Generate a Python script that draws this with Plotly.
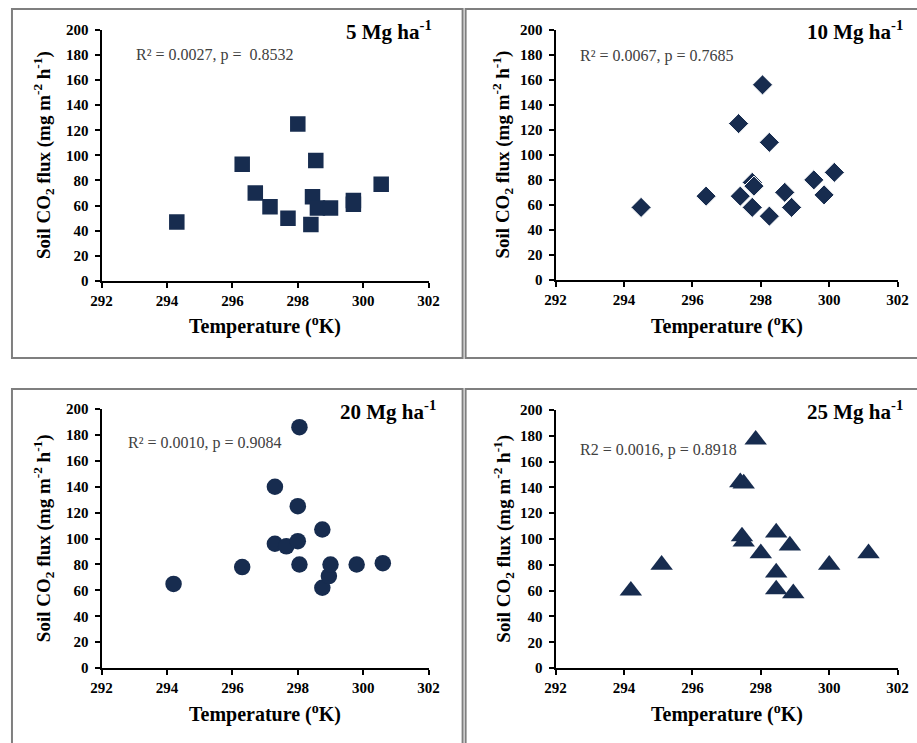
import plotly.graph_objects as go

W, H = 917, 743

# ---- data ----
t5 = [294.3, 296.3, 298.0, 298.55, 296.7, 297.15, 297.7, 298.4, 298.45, 298.6, 299.0, 299.7, 299.7, 300.55]
f5 = [47, 93, 125, 96, 70, 59, 50, 45, 67, 58, 58, 64, 61, 77]

t10 = [294.5, 296.4, 297.35, 298.05, 298.25, 297.4, 297.75, 297.8, 297.75, 298.25, 298.7, 298.9, 299.55, 299.85, 300.15]
f10 = [58, 67, 125, 156, 110, 67, 78, 75, 58, 51, 70, 58, 80, 68, 86]

t20 = [294.2, 296.3, 297.3, 298.0, 298.05, 297.3, 297.65, 298.0, 298.05, 298.75, 298.75, 298.95, 299.0, 299.8, 300.6]
f20 = [65, 78, 140, 125, 186, 96, 94, 98, 80, 107, 62, 71, 80, 80, 81]

t25 = [294.2, 295.1, 297.85, 297.4, 297.5, 297.45, 297.5, 298.0, 298.45, 298.85, 298.45, 298.45, 298.95, 300.0, 301.15]
f25 = [60, 80, 177, 144, 143, 102, 98, 89, 105, 95, 74, 61, 58, 80, 89]

titles = ["5 Mg ha<sup>-1</sup>", "10 Mg ha<sup>-1</sup>", "20 Mg ha<sup>-1</sup>", "25 Mg ha<sup>-1</sup>"]
stats = ["R² = 0.0027, p =  0.8532", "R² = 0.0067, p = 0.7685",
         "R² = 0.0010, p = 0.9084", "R2 = 0.0016, p = 0.8918"]
x_title = "Temperature (<sup>o</sup>K)"
y_title = "Soil CO<sub>2</sub> flux (mg m<sup>-2</sup> h<sup>-1</sup>)"
x_range = [292, 302]
y_range = [0, 200]

NAVY = "#172c4f"
FONT = "Liberation Serif, Times New Roman, serif"

# mapping from picture pixels to page pixels (measured from a calibration render)
def ix(v):
    return (v - 10.4) / 0.976

def iy(v):
    return (v - 7.2) / 0.978

def px(x):
    return min(max(x, -20), 950) / W

def py(y):
    return 1 - y / H

# panel geometry in picture pixels: (x0, x1, ytop, ybottom)
panels = [
    (101, 428, 29, 280),
    (555, 897, 29, 279),
    (101, 428, 408, 667),
    (555, 897, 409, 667),
]
series = [(t5, f5, "square", 15.5, 0), (t10, f10, "diamond", 15.5, 1),
          (t20, f20, "circle", 16.5, 0), (t25, f25, "triangle-up", 19.5, 0)]
title_pos = [(433, 30), (905, 30), (437, 410), (905, 410)]
stat_pos = [(133, 54), (577, 55), (125, 442), (577, 449)]
ylab_x = [43, 502, 43, 502]
xlab_y = [325, 325, 712, 712]

fig = go.Figure()
layout = dict(
    width=W, height=H,
    margin=dict(l=0, r=0, t=0, b=0),
    paper_bgcolor="white", plot_bgcolor="white",
    showlegend=False,
    font=dict(family=FONT, color="black"),
    annotations=[], shapes=[],
)

for i, ((x0, x1, yt, yb), (tx, fy, sym, size, lw)) in enumerate(zip(panels, series)):
    n = "" if i == 0 else str(i + 1)
    fig.add_trace(go.Scatter(
        x=tx, y=fy, mode="markers", xaxis="x" + n, yaxis="y" + n,
        marker=dict(symbol=sym, size=size, color=NAVY,
                    line=dict(color="white", width=lw)),
        hoverinfo="skip",
    ))
    axcommon = dict(showgrid=False, zeroline=False, showline=True, linecolor="black",
                    linewidth=2, ticks="outside", ticklen=5, tickwidth=2, tickcolor="black",
                    tickfont=dict(family=FONT, size=15, color="black", weight="bold"))
    layout["xaxis" + n] = dict(domain=[px(ix(x0)), px(ix(x1))], range=x_range, dtick=2,
                               anchor="y" + n, **axcommon)
    layout["yaxis" + n] = dict(domain=[py(iy(yb)), py(iy(yt))], range=y_range, dtick=20,
                               anchor="x" + n, ticklabelstandoff=3, **axcommon)
    layout["annotations"].append(dict(
        x=px(min(ix(title_pos[i][0]), 916)), y=py(iy(title_pos[i][1])), xref="paper", yref="paper",
        text=titles[i], showarrow=False, xanchor="right", yanchor="middle",
        font=dict(family=FONT, size=21, color="black", weight="bold")))
    layout["annotations"].append(dict(
        x=px(ix(stat_pos[i][0])), y=py(iy(stat_pos[i][1])), xref="paper", yref="paper",
        text=stats[i], showarrow=False, xanchor="left", yanchor="middle",
        font=dict(family=FONT, size=16, color="#404040")))
    layout["annotations"].append(dict(
        x=px(ix((x0 + x1) / 2)), y=py(iy(xlab_y[i])), xref="paper", yref="paper",
        text=x_title, showarrow=False, xanchor="center", yanchor="middle",
        font=dict(family=FONT, size=20, color="black", weight="bold")))
    layout["annotations"].append(dict(
        x=px(ix(ylab_x[i])), y=py(iy((yt + yb) / 2)), xref="paper", yref="paper",
        text=y_title, showarrow=False, xanchor="center", yanchor="middle", textangle=-90,
        font=dict(family=FONT, size=19, color="black", weight="bold")))

# panel frames (page pixels)
frames = [(1, ix(462), 1, iy(357)), (ix(465), 935, 1, iy(357)),
          (1, ix(462), iy(388), 770), (ix(465), 935, iy(388), 770)]
for (a, b, c, d) in frames:
    layout["shapes"].append(dict(type="rect", xref="paper", yref="paper",
                                 x0=px(a), x1=px(b), y0=py(d), y1=py(c),
                                 line=dict(color="#7f7f7f", width=2)))

fig.update_layout(**layout)
fig.write_html("out.html", config={"displayModeBar": False},
               post_script="document.body.style.margin='0';document.body.style.overflow='hidden';")
